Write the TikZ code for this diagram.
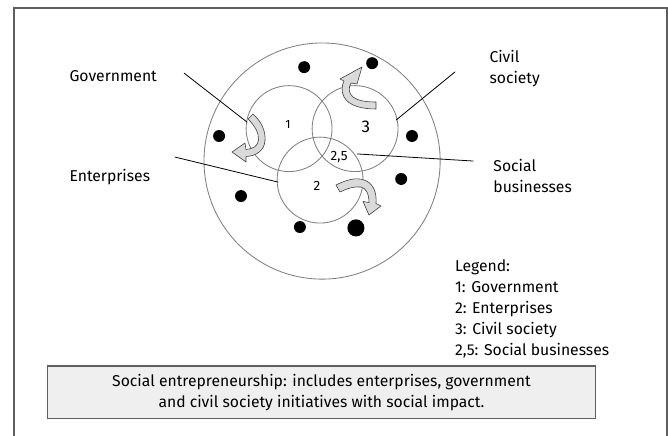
\documentclass[tikz,border=0pt]{standalone}
\usepackage{fontspec}
\setmainfont{Fira Sans}
\usepackage{tkz-euclide}
\usepackage{xcolor}
\definecolor{frame}{HTML}{5F5F5F}
\definecolor{note}{HTML}{EFEFEF}
\definecolor{bend}{HTML}{DADADA}

\begin{document}
\begin{tikzpicture}[txt/.style={font=\fontsize{15.7}{21}\selectfont},
		bendarrow/.style={fill=bend,draw=black!75,line width=0.6pt,line join=round}]
		\useasboundingbox (0,0) rectangle (23.478,-15.324);
		%
		% frame
		\draw[frame,line width=1.3pt] (0.49,-15.4) |- (23.44,-0.28) -- (23.44,-15.4);
		%
		% circles
		\tkzDefPoint(11.32,-5.66){O}
		\tkzDefShiftPoint[O](0:4.15){Or}
		\tkzDefPoint(10.16,-4.52){G}
		\tkzDefShiftPoint[G](0:1.51){Gr}
		\tkzDefPoint(12.48,-4.52){C}
		\tkzDefShiftPoint[C](0:1.51){Cr}
		\tkzDefPoint(11.25,-6.33){E}
		\tkzDefShiftPoint[E](0:1.51){Er}
		\tkzDrawCircle[line width=0.85pt](O,Or)
		\tkzDrawCircle[line width=0.85pt](G,Gr)
		\tkzDrawCircle[line width=0.85pt](C,Cr)
		\tkzDrawCircle[line width=0.85pt](E,Er)
		%
		% dots
		\tkzDefPoints{10.69/-2.36/D1,13.08/-2.22/D2,7.70/-4.78/D3,14.48/-4.78/D4,
			14.10/-6.29/D5,8.47/-6.89/D6,10.54/-7.98/D7}
		\tkzDefPoint(12.51,-8.01){D8}
		\foreach \i in {1,...,7} \fill (D\i) circle (0.21);
		\fill (D8) circle (0.3);
		%
		% numbers
		\node[font=\fontsize{12}{14}\selectfont] (n1) at (10.12,-4.36) {1};
		\node[font=\fontsize{17}{20}\selectfont] (n3) at (12.86,-4.46) {3};
		\node[font=\fontsize{13.5}{16}\selectfont] (n2) at (11.14,-6.54) {2};
		\node[font=\fontsize{13.5}{16}\selectfont] (n25) at (11.92,-5.52) {2,5};
		%
		% labels
		\node[txt,anchor=west] (gov) at (2.32,-2.67) {Government};
		\node[txt,anchor=west] (ent) at (2.32,-6.22) {Enterprises};
		\node[txt,anchor=west,align=left] (civ) at (17.08,-2.41) {Civil\\society};
		\node[txt,anchor=west,align=left] (soc) at (17.22,-6.20) {Social\\businesses};
		\tkzDefPoint(6.47,-2.57){L1}
		\tkzDefPoint(8.68,-4.29){L1a}
		\tkzDefPoint(6.15,-5.52){L2}
		\tkzDefPoint(9.77,-6.40){L2a}
		\tkzDefPoint(15.99,-2.53){L3}
		\tkzDefPoint(13.92,-4.22){L3a}
		\tkzDefPoint(16.63,-5.66){L4}
		\tkzDefPoint(12.55,-5.41){L4a}
		\tkzDrawSegment[line width=0.8pt](L1,L1a)
		\tkzDrawSegment[line width=0.8pt](L2,L2a)
		\tkzDrawSegment[line width=0.8pt](L3,L3a)
		\tkzDrawSegment[line width=0.8pt](L4,L4a)
		%
		% curved arrows
		\begin{scope}[x=1pt,y=-1pt]
			\filldraw[bendarrow] (253,114) .. controls (261,121) and (266,131) .. (265,141)
				.. controls (264,151) and (256,156) .. (246,156.5) -- (246,162) -- (232,152)
				-- (245,143) -- (246,149.5) .. controls (253,149) and (258,146) .. (258.5,140)
				.. controls (259,133) and (255,126) .. (248,119) -- cycle;
			\filldraw[bendarrow] (376,109) .. controls (362,109) and (349,106) .. (344,97)
				.. controls (341,91) and (342,85) .. (344,81) -- (340,79) -- (362,67)
				-- (357,84) -- (351,83) .. controls (348,88) and (349,94) .. (353,97)
				.. controls (358,101) and (367,102) .. (376,102) -- cycle;
			\filldraw[bendarrow] (336,185) .. controls (346,180) and (356,177) .. (364,180)
				.. controls (373,183) and (377,192) .. (376,203.5) -- (381,206) -- (369,215)
				-- (363,201.5) -- (369,202.5) .. controls (369,194) and (366,188) .. (361,187)
				.. controls (354,186) and (346,189) .. (340,192) -- cycle;
		\end{scope}
		%
		% legend
		\node[txt,anchor=north west,align=left,inner sep=0pt] (legend) at (15.99,-9.12)
			{Legend:\\1: Government\\2: Enterprises\\3: Civil society\\2,5: Social businesses};
		%
		% note
		\node[txt,draw=frame,fill=note,line width=1.2pt,align=center,
			minimum width=19.25cm,minimum height=1.83cm] (note) at (11.30,-13.78)
			{Social entrepreneurship: includes enterprises, government\\
			and civil society initiatives with social impact.};
	\end{tikzpicture}
\end{document}
